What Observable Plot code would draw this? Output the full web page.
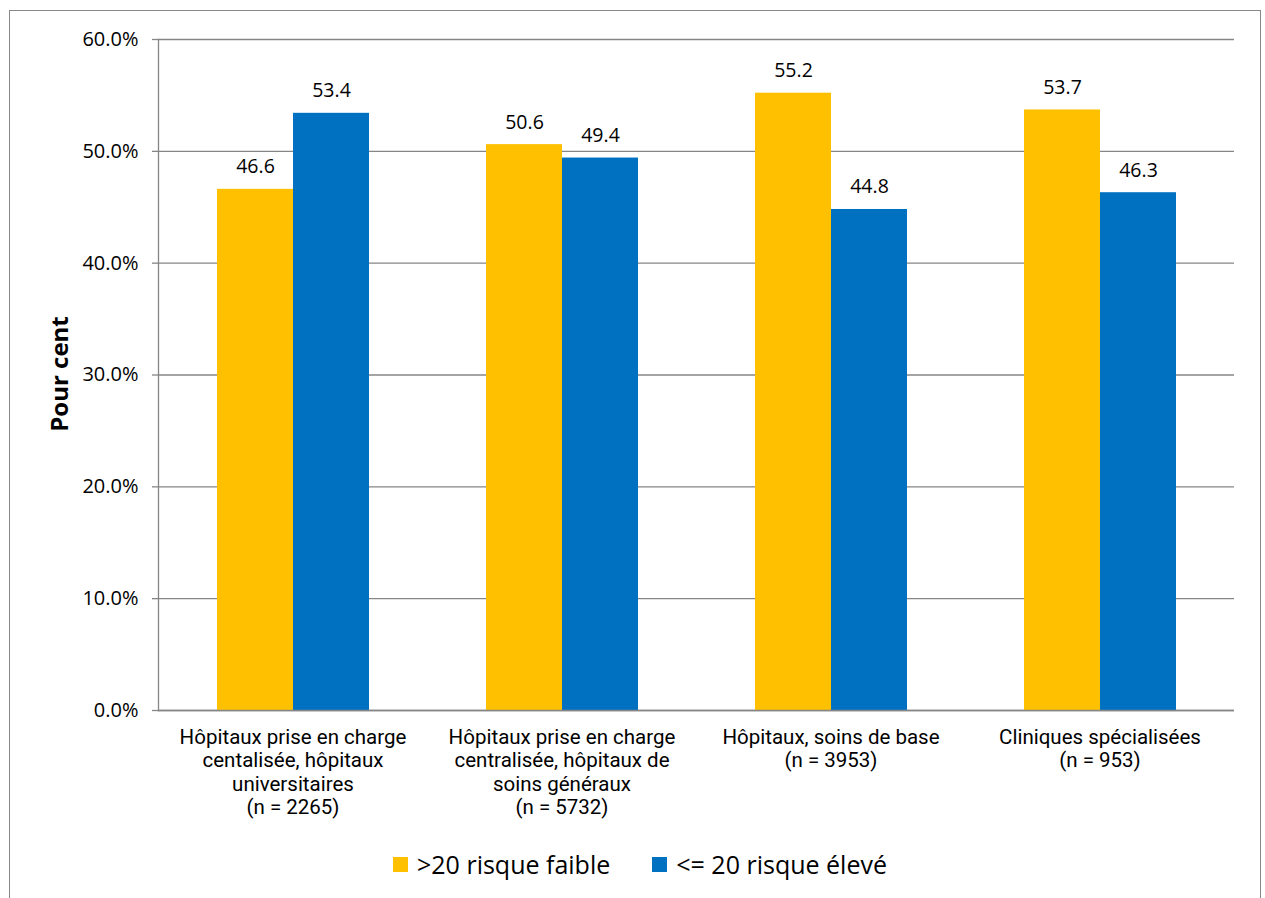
<!DOCTYPE html>
<html>
<head>
<meta charset="utf-8">
<script src="https://cdn.jsdelivr.net/npm/d3@7"></script>
<script src="https://cdn.jsdelivr.net/npm/@observablehq/plot@0.6"></script>
<style>
  html, body { margin: 0; padding: 0; background: #fff; overflow: hidden; width: 1265px; height: 898px; }
  body { position: relative; font-family: "Open Sans", "Noto Sans", sans-serif; color: #000; }
  #frame { position: absolute; left: 9px; top: 10px; width: 1252px; height: 1000px; border: 1.5px solid #888; box-sizing: border-box; }
  #chart { position: absolute; left: 0; top: 0; }
  #ylabel { position: absolute; left: 58px; top: 374px; transform: translate(-50%, -50%) rotate(-90deg); font-weight: bold; font-size: 24px; white-space: nowrap; }
  #legend { position: absolute; left: 15px; width: 1250px; top: 847px; display: flex; justify-content: center; align-items: center; font-size: 25px; }
  .item { display: flex; align-items: center; margin: 0 21px; }
  .sw { width: 15px; height: 15px; margin-right: 9px; }
</style>
</head>
<body>
<div id="frame"></div>
<div id="chart"></div>
<div id="ylabel">Pour cent</div>
<div id="legend"></div>
<script>
const categories = [
  "Hôpitaux prise en charge\ncentalisée, hôpitaux\nuniversitaires\n(n = 2265)",
  "Hôpitaux prise en charge\ncentralisée, hôpitaux de\nsoins généraux\n(n = 5732)",
  "Hôpitaux, soins de base\n(n = 3953)",
  "Cliniques spécialisées\n(n = 953)"
];
const seriesNames = [">20 risque faible", "<= 20 risque élevé"];
const lowRisk = [46.6, 50.6, 55.2, 53.7];
const highRisk = [53.4, 49.4, 44.8, 46.3];
const colors = ["#FFC000", "#0070C0"];
const yTicks = [0, 10, 20, 30, 40, 50, 60];

const data = [];
categories.forEach((c, i) => {
  data.push({cat: c, series: seriesNames[0], value: lowRisk[i]});
  data.push({cat: c, series: seriesNames[1], value: highRisk[i]});
});

const grey = "#868686";

const chart = Plot.plot({
  width: 1265,
  height: 830,
  marginLeft: 157,
  marginRight: 31,
  marginTop: 39,
  marginBottom: 120,
  style: {fontFamily: '"Open Sans", "Noto Sans", sans-serif', fontSize: "20px", color: "#000", background: "transparent"},
  fx: {domain: categories, padding: 0},
  x: {domain: seriesNames, paddingInner: 0, paddingOuter: 0.75, axis: null},
  y: {domain: [0, 60], axis: null},
  color: {domain: seriesNames, range: colors},
  marks: [
    Plot.gridY({ticks: yTicks, stroke: grey, strokeOpacity: 1, strokeWidth: 1.3}),
    Plot.barY(data, {fx: "cat", x: "series", y: "value", fill: "series"}),
    Plot.text(data, {fx: "cat", x: "series", y: "value", text: d => d.value.toFixed(1), dy: -16, lineAnchor: "bottom", fontSize: 19.5, fill: "#000"}),
    Plot.frame({anchor: "left", facetAnchor: "left", stroke: grey, strokeWidth: 1.3}),
    Plot.ruleY([0], {stroke: grey, strokeWidth: 1.3}),
    Plot.axisY({ticks: yTicks, tickSize: 6, tickPadding: 14, tickFormat: d => d.toFixed(1) + "%", stroke: grey, strokeWidth: 1.3, fontSize: 20, fill: "#000", label: null}),
    Plot.axisFx({anchor: "bottom", tickSize: 0, tickPadding: 17, fontSize: 20.5, fontFamily: "Roboto, sans-serif", lineHeight: 1.14, label: null, fill: "#000"})
  ]
});
document.getElementById("chart").appendChild(chart);

const legend = document.getElementById("legend");
seriesNames.forEach((s, i) => {
  const it = document.createElement("div");
  it.className = "item";
  const sw = document.createElement("div");
  sw.className = "sw";
  sw.style.background = colors[i];
  const t = document.createElement("span");
  t.textContent = s;
  it.appendChild(sw);
  it.appendChild(t);
  legend.appendChild(it);
});
</script>
</body>
</html>
